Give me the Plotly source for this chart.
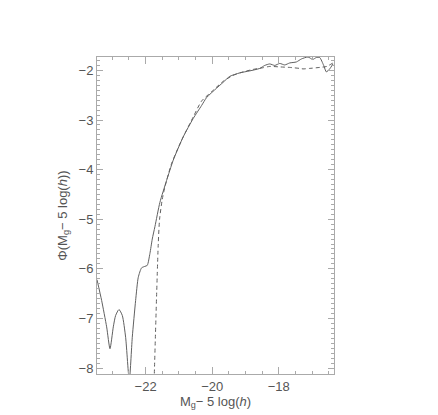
import plotly.graph_objects as go

# Solid curve
solid_x = [-23.46, -23.32, -23.17, -23.07, -22.97, -22.90, -22.80, -22.70, -22.60, -22.49,
           -22.40, -22.30, -22.22, -22.12, -22.02, -21.95, -21.87, -21.80, -21.72, -21.57,
           -21.37, -21.17, -20.87, -20.57, -20.32, -20.17, -19.87, -19.67, -19.47, -19.17,
           -18.87, -18.57, -18.42, -18.27, -18.12, -17.97, -17.82, -17.67, -17.47, -17.32,
           -17.12, -16.98, -16.87, -16.77, -16.65, -16.57, -16.47, -16.37]
solid_y = [-6.22, -6.64, -7.17, -7.61, -7.17, -6.94, -6.82, -6.94, -7.38, -8.25,
           -7.38, -6.64, -6.17, -5.98, -5.95, -5.93, -5.69, -5.40, -5.15, -4.66,
           -4.22, -3.81, -3.34, -2.97, -2.71, -2.55, -2.36, -2.24, -2.12, -2.05,
           -2.01, -1.96, -1.90, -1.87, -1.90, -1.86, -1.89, -1.85, -1.83, -1.77,
           -1.73, -1.78, -1.74, -1.74, -1.90, -2.03, -1.97, -1.87]

# Dashed curve
dash_x = [-21.75, -21.62, -21.58, -21.50, -21.42, -21.22, -20.92, -20.57, -20.32, -20.00,
          -19.67, -19.37, -19.07, -18.77, -18.50, -18.27, -17.97, -17.67, -17.37, -17.27,
          -17.07, -16.77, -16.56, -16.37]
dash_y = [-8.40, -5.50, -5.00, -4.60, -4.35, -3.88, -3.41, -2.94, -2.62, -2.42,
          -2.22, -2.10, -2.03, -1.98, -1.95, -1.92, -1.93, -1.94, -1.96, -1.97,
          -1.96, -1.94, -1.92, -1.85]

x_ticks = [-22, -20, -18]
y_ticks = [-8, -7, -6, -5, -4, -3, -2]

FONT = "Liberation Sans, Arial, sans-serif"
TXT = "#555555"
AX = "#aaaaaa"
LINE = "#606060"

fig = go.Figure()
fig.add_trace(go.Scatter(x=solid_x, y=solid_y, mode="lines",
                         line=dict(color=LINE, width=1, shape="spline", smoothing=0.6),
                         showlegend=False))
fig.add_trace(go.Scatter(x=dash_x, y=dash_y, mode="lines",
                         line=dict(color=LINE, width=1, dash="4px,3px", shape="spline", smoothing=0.6),
                         showlegend=False))

# page body has an 8px default margin, so margins are offset by 8px
fig.update_layout(
    width=438, height=415,
    margin=dict(l=89, r=112, t=49, b=49),
    paper_bgcolor="white", plot_bgcolor="white",
    font=dict(family=FONT, size=13, color=TXT),
)
fig.update_xaxes(
    range=[-23.46, -16.34], showgrid=False, zeroline=False,
    showline=True, linecolor=AX, linewidth=1, mirror="ticks",
    ticks="inside", ticklen=7, tickcolor=AX, tickwidth=1,
    tickvals=x_ticks, ticktext=["\u2212" + str(abs(v)) for v in x_ticks],
    minor=dict(dtick=0.5, tick0=0, ticks="inside", ticklen=3, tickcolor=AX, tickwidth=1),
    title=dict(text="M<sub>g</sub>\u2212 5 log(<i>h</i>)", standoff=3, font=dict(size=13, color=TXT)),
    tickfont=dict(size=13, color=TXT),
)
fig.update_yaxes(
    range=[-8.12, -1.73], showgrid=False, zeroline=False,
    showline=True, linecolor=AX, linewidth=1, mirror="ticks",
    ticks="inside", ticklen=6, tickcolor=AX, tickwidth=1,
    tickvals=y_ticks, ticktext=["\u2212" + str(abs(v)) for v in y_ticks],
    minor=dict(dtick=0.1, tick0=0, ticks="inside", ticklen=3, tickcolor=AX, tickwidth=1),
    title=dict(text="\u03a6(M<sub>g</sub>\u2212 5 log(<i>h</i>))", standoff=8, font=dict(size=13, color=TXT)),
    tickfont=dict(size=13, color=TXT),
)

fig.write_html("out.html")
